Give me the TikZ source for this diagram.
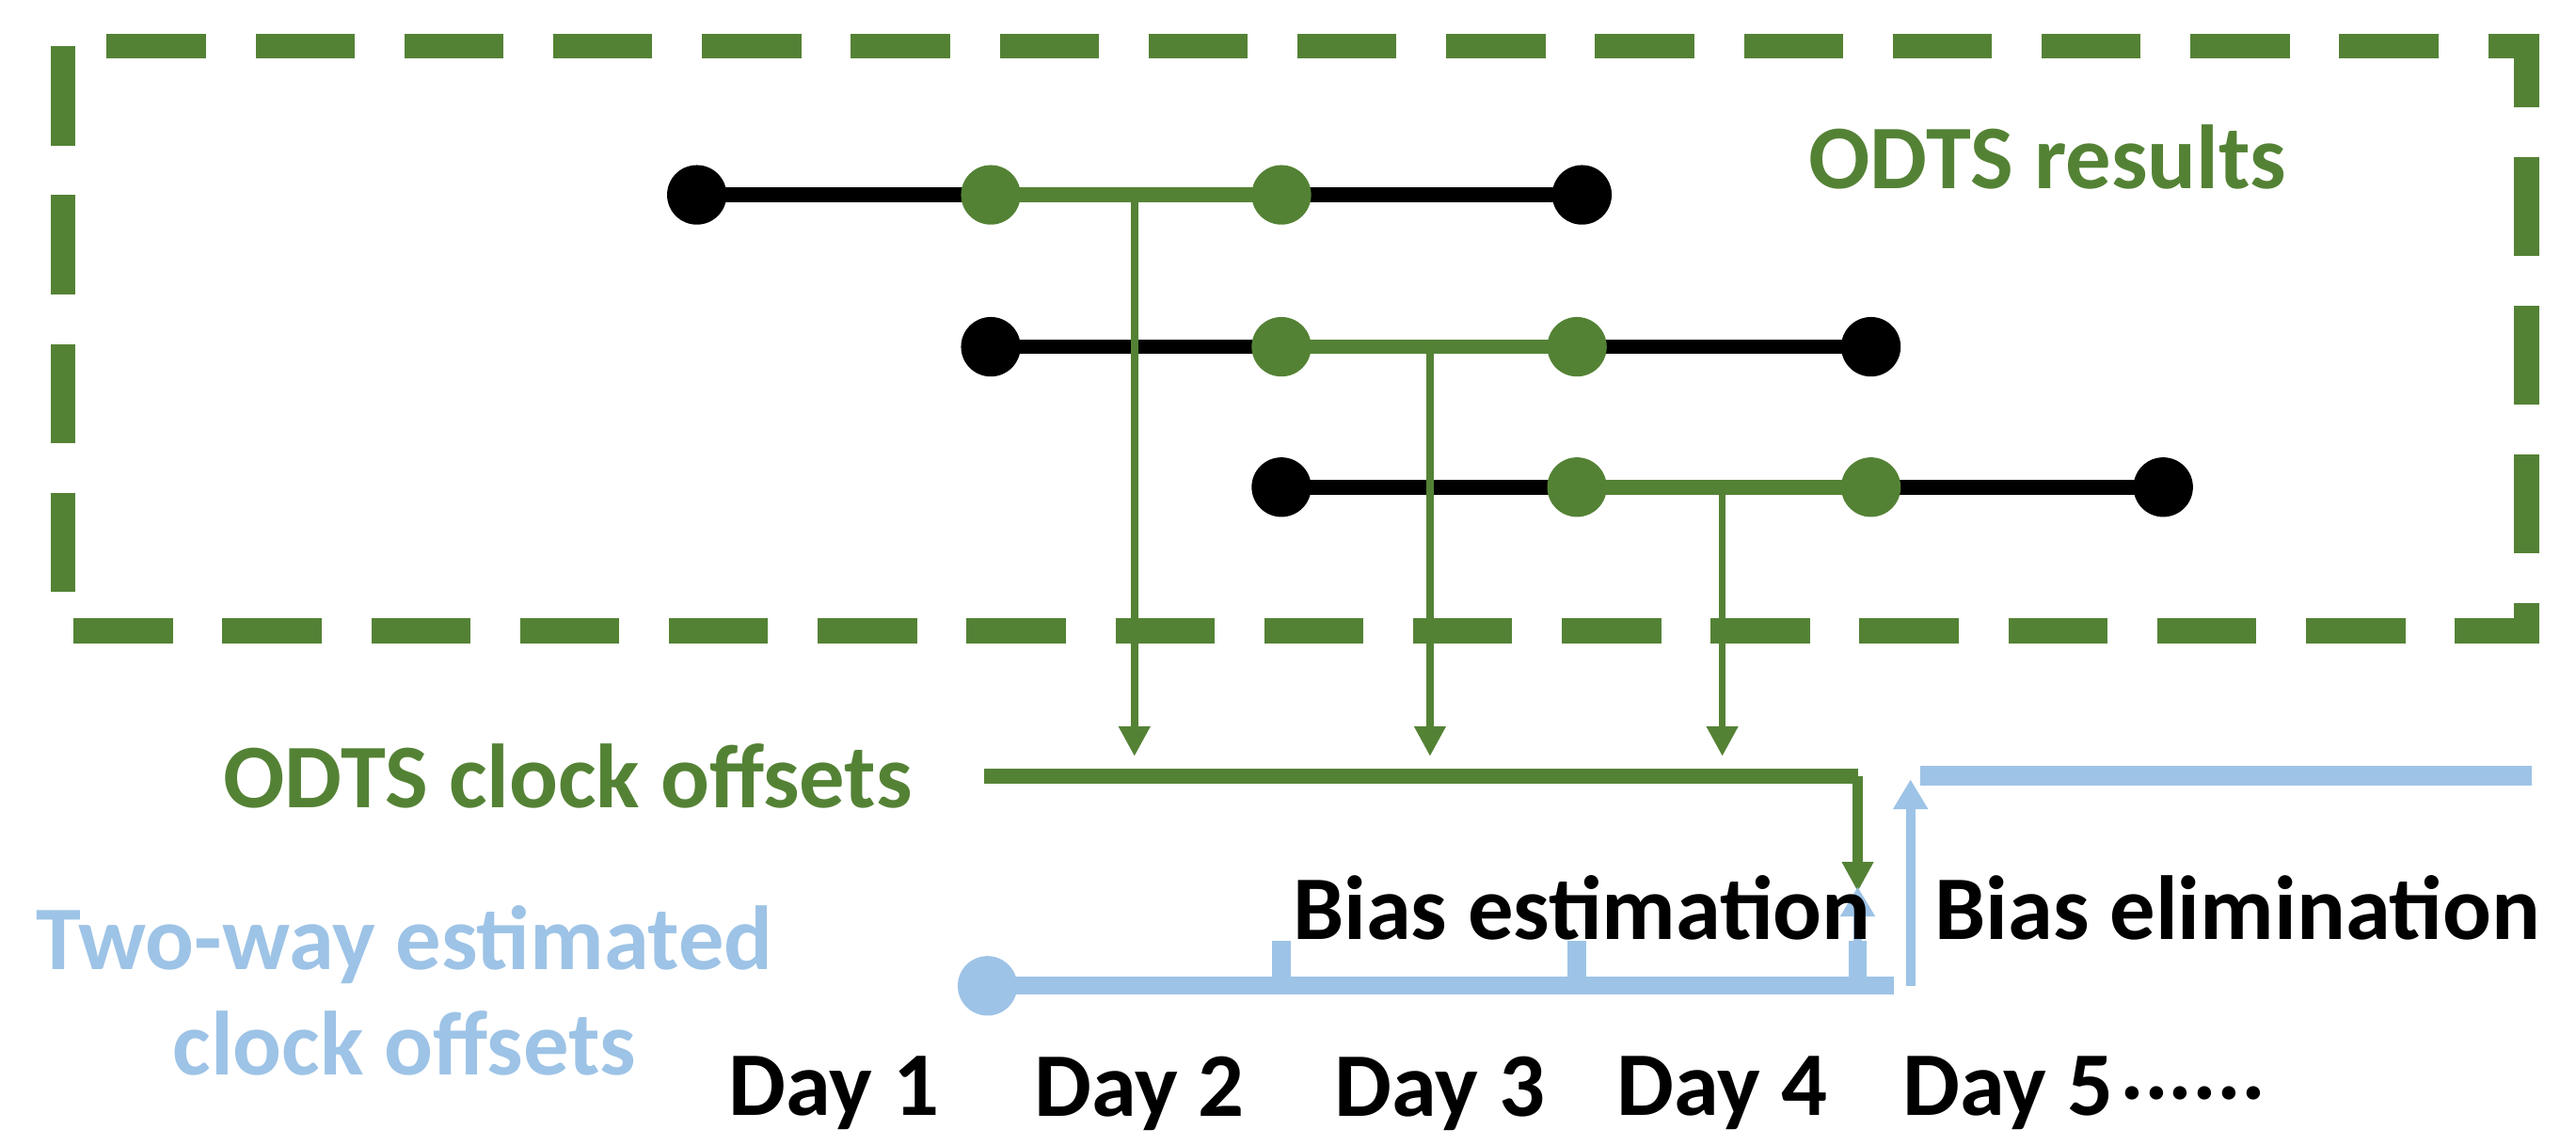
\documentclass[tikz,border=0pt]{standalone}
\usepackage{fontspec}
\setmainfont{Carlito}
\usetikzlibrary{arrows.meta}
\definecolor{gr}{HTML}{548235}
\definecolor{bl}{HTML}{9DC3E6}
\begin{document}
\begin{tikzpicture}[x=0.01755cm,y=-0.01755cm,
  dot/.style={circle,inner sep=0pt,minimum size=18pt,fill=#1},
  bar/.style={line width=4.5pt,#1},
  arr/.style={line width=2.2pt,gr,-{Triangle[width=9pt,length=9pt]}},
  barr/.style={line width=2.8pt,bl,-{Triangle[width=10pt,length=9pt]}},
  lbl/.style={font=\fontsize{27.5}{32}\selectfont\bfseries,inner sep=0pt}]
\useasboundingbox (0,0) rectangle (1560,693);
\draw[gr,line width=7.5pt,dash pattern=on 30pt off 15pt] (38,28) rectangle (1530,382);
\node[lbl,text=gr] (res) at (1240,95) {ODTS results};
% row 1
\coordinate (r1a) at (422,118); \coordinate (r1b) at (600,118); \coordinate (r1c) at (776,118); \coordinate (r1d) at (958,118);
\draw[bar=black] (r1a) -- (r1d); \draw[bar=gr] (r1b) -- (r1c);
\node[dot=black] at (r1a) {}; \node[dot=gr] at (r1b) {}; \node[dot=gr] at (r1c) {}; \node[dot=black] at (r1d) {};
% row 2
\coordinate (r2a) at (600,210); \coordinate (r2b) at (776,210); \coordinate (r2c) at (955,210); \coordinate (r2d) at (1133,210);
\draw[bar=black] (r2a) -- (r2d); \draw[bar=gr] (r2b) -- (r2c);
\node[dot=black] at (r2a) {}; \node[dot=gr] at (r2b) {}; \node[dot=gr] at (r2c) {}; \node[dot=black] at (r2d) {};
% row 3
\coordinate (r3a) at (776,295); \coordinate (r3b) at (955,295); \coordinate (r3c) at (1133,295); \coordinate (r3d) at (1310,295);
\draw[bar=black] (r3a) -- (r3d); \draw[bar=gr] (r3b) -- (r3c);
\node[dot=black] at (r3a) {}; \node[dot=gr] at (r3b) {}; \node[dot=gr] at (r3c) {}; \node[dot=black] at (r3d) {};
% down arrows
\coordinate (m1) at (687,118); \coordinate (e1) at (687,458);
\coordinate (m2) at (866,210); \coordinate (e2) at (866,458);
\coordinate (m3) at (1043,295); \coordinate (e3) at (1043,458);
\draw[arr] (m1) -- (e1); \draw[arr] (m2) -- (e2); \draw[arr] (m3) -- (e3);
% ODTS clock offsets
\coordinate (o1) at (596,470); \coordinate (o2) at (1125,470); \coordinate (o3) at (1125,540);
\draw[bar=gr] (o1) -- (o2);
\draw[arr,line width=3pt] (o2) -- (o3);
\node[lbl,text=gr,anchor=east] (odts) at (553,470) {ODTS clock offsets};
% blue line
\coordinate (b1) at (598,597); \coordinate (b2) at (1147,597);
\draw[bar=bl,line width=5.5pt] (b1) -- (b2);
\node[dot=bl] at (b1) {};
\coordinate (t1) at (776,597); \coordinate (t2) at (955,597); \coordinate (t3) at (1125,597);
\draw[bl,line width=5.5pt] (t1) -- ++(0,-27) (t2) -- ++(0,-27) (t3) -- ++(0,-27);
\coordinate (t3e) at (1125,537);
\draw[barr] (1125,572) -- (t3e);
\coordinate (u1) at (1157,597); \coordinate (u2) at (1157,472);
\draw[barr] (u1) -- (u2);
\coordinate (n1) at (1163,470); \coordinate (n2) at (1533,470);
\draw[bar=bl,line width=6pt] (n1) -- (n2);
\node[lbl] (be) at (958,550) {Bias estimation};
\node[lbl] (bel) at (1355,550) {Bias elimination};
\node[lbl,text=bl,align=center] (tw) at (245,600) {Two-way estimated\\clock offsets};
\foreach \x/\t/\n in {505/{Day 1}/d1,690/{Day 2}/d2,872/{Day 3}/d3,1043/{Day 4}/d4,1216/{Day 5}/d5}
  \node[lbl] (\n) at (\x,662) {\t};
\node[lbl] (d6) at (1328,662) {......};
\end{tikzpicture}
\end{document}
